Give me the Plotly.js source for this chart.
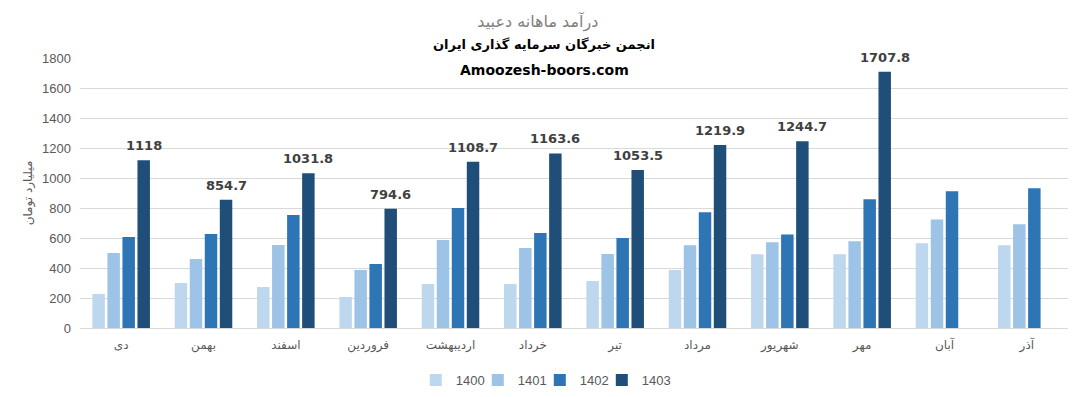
<!DOCTYPE html>
<html>
<head>
<meta charset="utf-8">
<script src="https://cdn.plot.ly/plotly-3.0.1.min.js"></script>
<style>html,body{margin:0;padding:0;background:#fff;}#chart{width:1080px;height:397px;}</style>
</head>
<body>
<div id="chart"></div>
<script>
const months = ["دی","بهمن","اسفند","فروردین","اردیبهشت","خرداد","تیر","مرداد","شهریور","مهر","آبان","آذر"];
const v1400 = [227, 300, 273, 207, 293, 293, 313, 387, 491, 491, 565, 551];
const v1401 = [500, 460, 553, 387, 587, 533, 493, 551, 571, 578, 724, 691];
const v1402 = [607, 627, 753, 427, 800, 633, 600, 771, 624, 858, 911, 931];
const v1403 = [1118, 854.7, 1031.8, 794.6, 1108.7, 1163.6, 1053.5, 1219.9, 1244.7, 1707.8, null, null];
const seriesNames = ["1400","1401","1402","1403"];
const colors = ["#BDD7EE","#9DC3E6","#2E75B6","#1F4E79"];

const allVals = [v1400, v1401, v1402, v1403];
const traces = allVals.map((vals, i) => ({
  type: "bar", name: seriesNames[i], x: months, y: vals,
  marker: {color: colors[i]}, hoverinfo: "none"
}));
// spacer legend entry (invisible) so the last real legend label is not clipped
traces.push({type: "scatter", mode: "markers", name: " ", x: [null], y: [null],
  marker: {color: "rgba(0,0,0,0)"}, hoverinfo: "none", showlegend: true});

const annotations = [];
const plotW = 1080 - 80 - 12;
const catW = plotW / months.length;
const bargap = 0.27;
const slot = catW * (1 - bargap) / 4;
const xshift = slot * 1.5;
v1403.forEach((v, i) => {
  if (v === null) return;
  annotations.push({x: months[i], y: v, xref: "x", yref: "y", text: String(v),
    showarrow: false, yanchor: "bottom", xshift: xshift, yshift: 5,
    font: {family: "DejaVu Sans, sans-serif", size: 13, color: "#404040", weight: "bold"}});
});
annotations.push({xref: "paper", yref: "paper", x: 0.47, y: 1.0, yanchor: "bottom", yshift: 4,
  text: "<b>انجمن خبرگان سرمایه گذاری ایران</b>", showarrow: false,
  font: {family: "DejaVu Sans, sans-serif", size: 13, color: "#000"}});
annotations.push({xref: "paper", yref: "paper", x: 0.47, y: 1.0, yanchor: "bottom", yshift: -22,
  text: "<b>Amoozesh-boors.com</b>", showarrow: false,
  font: {family: "DejaVu Sans, sans-serif", size: 14, color: "#000"}});

const layout = {
  width: 1080, height: 397,
  margin: {l: 80, r: 12, t: 58, b: 69},
  paper_bgcolor: "#fff", plot_bgcolor: "#fff",
  title: {text: "درآمد ماهانه دعبید", x: 0.498, xanchor: "center", y: 0.945, yanchor: "middle",
    font: {family: "DejaVu Sans, sans-serif", size: 16, color: "#7f7f7f"}},
  barmode: "group", bargap: bargap, bargroupgap: 0.17,
  xaxis: {type: "category", tickfont: {family: "DejaVu Sans, sans-serif", size: 12, color: "#595959"},
    showline: true, linecolor: "#d9d9d9", ticks: "", ticklabelstandoff: 6, fixedrange: true},
  yaxis: {range: [0, 1800], dtick: 200, showgrid: true, gridcolor: "#d9d9d9", zeroline: false,
    tickfont: {family: "Liberation Sans, sans-serif", size: 13, color: "#595959"},
    ticklabelstandoff: 8,
    title: {text: "میلیارد تومان", standoff: 6, font: {family: "DejaVu Sans, sans-serif", size: 12, color: "#595959"}}},
  legend: {orientation: "h", x: 0.385, xanchor: "left", xref: "container",
    y: 0.043, yanchor: "middle", yref: "container",
    itemwidth: 30, entrywidth: 17, entrywidthmode: "pixels",
    font: {family: "Liberation Sans, sans-serif", size: 13, color: "#595959"}, traceorder: "normal"},
  annotations: annotations,
  showlegend: true
};
Plotly.newPlot("chart", traces, layout, {displayModeBar: false, staticPlot: true});
</script>
</body>
</html>
